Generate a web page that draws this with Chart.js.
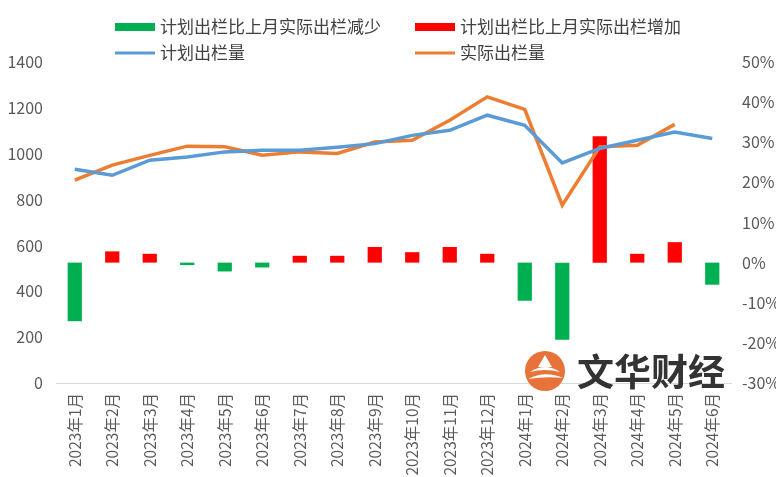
<!DOCTYPE html>
<html>
<head>
<meta charset="utf-8">
<script src="https://cdn.jsdelivr.net/npm/chart.js@4"></script>
<style>
    html, body { margin: 0; padding: 0; background: #fff; }
    #box { width: 776px; height: 477px; }
</style>
</head>
<body>
<div id="box"><canvas id="chart"></canvas></div>
<script>
const months = ['2023年1月', '2023年2月', '2023年3月', '2023年4月', '2023年5月', '2023年6月',
    '2023年7月', '2023年8月', '2023年9月', '2023年10月', '2023年11月', '2023年12月',
    '2024年1月', '2024年2月', '2024年3月', '2024年4月', '2024年5月', '2024年6月'];
// 计划出栏比上月实际出栏 (%)
const changePct = [-14.6, 2.8, 2.2, -0.6, -2.2, -1.2, 1.7, 1.7, 3.9, 2.6, 3.9, 2.2,
    -9.5, -19.2, 31.5, 2.2, 5.1, -5.5];
const planned = [932, 906, 972, 986, 1008, 1015, 1015, 1028, 1044, 1080, 1102, 1168,
    1124, 960, 1023, 1059, 1095, 1066];
const actual = [885, 950, 993, 1033, 1030, 993, 1008, 1001, 1051, 1059, 1146, 1248,
    1193, 776, 1030, 1037, 1128, null];
const leftTicks = [0, 1400, 200];
const rightTicks = [-30, 50, 10];

const cjk = '"Noto Sans CJK SC", "Noto Sans", sans-serif';
const grey = '#595959';

const fewer = changePct.map(v => v < 0 ? v : null);
const more = changePct.map(v => v > 0 ? v : null);

// legend in two aligned columns, like the original
const legendTwoCols = {
    id: 'legendTwoCols',
    afterDraw(chart) {
        const ctx = chart.ctx;
        const cols = [115, 415];
        const rows = [27, 53];
        ctx.save();
        ctx.font = '17px ' + cjk;
        ctx.textBaseline = 'middle';
        chart.data.datasets.forEach((ds, i) => {
            const x = cols[i % 2];
            const y = rows[Math.floor(i / 2)];
            if (ds.type === 'line') {
                ctx.fillStyle = ds.borderColor;
                ctx.fillRect(x, y - 1.5, 40, 3);
            } else {
                ctx.fillStyle = ds.backgroundColor;
                ctx.fillRect(x, y - 4, 40, 8);
            }
            ctx.fillStyle = '#404040';
            ctx.fillText(ds.label, x + 45, y);
        });
        ctx.restore();
    }
};

// watermark logo
const watermark = {
    id: 'watermark',
    afterDraw(chart) {
        const ctx = chart.ctx;
        ctx.save();
        ctx.fillStyle = '#E8733A';
        ctx.beginPath();
        ctx.arc(545, 371, 20, 0, Math.PI * 2);
        ctx.fill();
        ctx.fillStyle = '#fff';
        ctx.beginPath();
        ctx.moveTo(530, 372);
        ctx.quadraticCurveTo(545, 362, 560, 372);
        ctx.quadraticCurveTo(545, 368, 530, 372);
        ctx.fill();
        ctx.beginPath();
        ctx.moveTo(528, 379);
        ctx.quadraticCurveTo(545, 370, 563, 378);
        ctx.quadraticCurveTo(545, 376, 528, 379);
        ctx.fill();
        ctx.beginPath();
        ctx.moveTo(545, 355);
        ctx.lineTo(552, 367);
        ctx.lineTo(538, 367);
        ctx.closePath();
        ctx.fill();
        ctx.font = 'bold 37px ' + cjk;
        ctx.fillStyle = '#333';
        ctx.textBaseline = 'middle';
        ctx.fillText('文华财经', 577, 372);
        ctx.restore();
    }
};

const canvas = document.getElementById('chart').getContext('2d');
const chart = new Chart(canvas, {
    data: {
        labels: months,
        datasets: [
            {
                type: 'bar',
                label: '计划出栏比上月实际出栏减少',
                data: fewer,
                yAxisID: 'y1',
                backgroundColor: '#00B050',
                grouped: false,
                categoryPercentage: 1,
                barPercentage: 0.38,
                order: 2
            },
            {
                type: 'bar',
                label: '计划出栏比上月实际出栏增加',
                data: more,
                yAxisID: 'y1',
                backgroundColor: '#FF0000',
                grouped: false,
                categoryPercentage: 1,
                barPercentage: 0.38,
                order: 2
            },
            {
                type: 'line',
                label: '计划出栏量',
                data: planned,
                yAxisID: 'y',
                borderColor: '#5B9BD5',
                borderWidth: 3.5,
                pointRadius: 0,
                tension: 0,
                order: 1
            },
            {
                type: 'line',
                label: '实际出栏量',
                data: actual,
                yAxisID: 'y',
                borderColor: '#ED7D31',
                borderWidth: 3.5,
                pointRadius: 0,
                tension: 0,
                order: 1
            }
        ]
    },
    options: {
        responsive: true,
        maintainAspectRatio: false,
        animation: false,
        layout: { padding: { top: 62, left: 0, right: 0, bottom: 0 } },
        plugins: {
            legend: { display: false },
            tooltip: { enabled: false }
        },
        scales: {
            x: {
                grid: { display: false, drawTicks: false },
                border: { display: true, color: '#d9d9d9', width: 1 },
                ticks: {
                    color: grey,
                    font: { size: 15.5, family: cjk },
                    maxRotation: 90,
                    minRotation: 90,
                    autoSkip: false,
                    padding: 10
                },
                afterFit(scale) { scale.height = 94; }
            },
            y: {
                position: 'left',
                min: leftTicks[0],
                max: leftTicks[1],
                grid: { display: false, drawTicks: false },
                border: { display: false },
                ticks: {
                    stepSize: leftTicks[2],
                    color: grey,
                    font: { size: 16, family: cjk },
                    padding: 13,
                    callback: function(value) {
                        return String(value);
                    }
                },
                afterFit(scale) { scale.width = 56; }
            },
            y1: {
                position: 'right',
                min: rightTicks[0],
                max: rightTicks[1],
                grid: { display: false, drawTicks: false },
                border: { display: false },
                ticks: {
                    stepSize: rightTicks[2],
                    color: grey,
                    font: { size: 16, family: cjk },
                    padding: 11,
                    callback: function(value) {
                        return value + '%';
                    }
                },
                afterFit(scale) { scale.width = 45; }
            }
        }
    },
    plugins: [legendTwoCols, watermark]
});
</script>
</body>
</html>
